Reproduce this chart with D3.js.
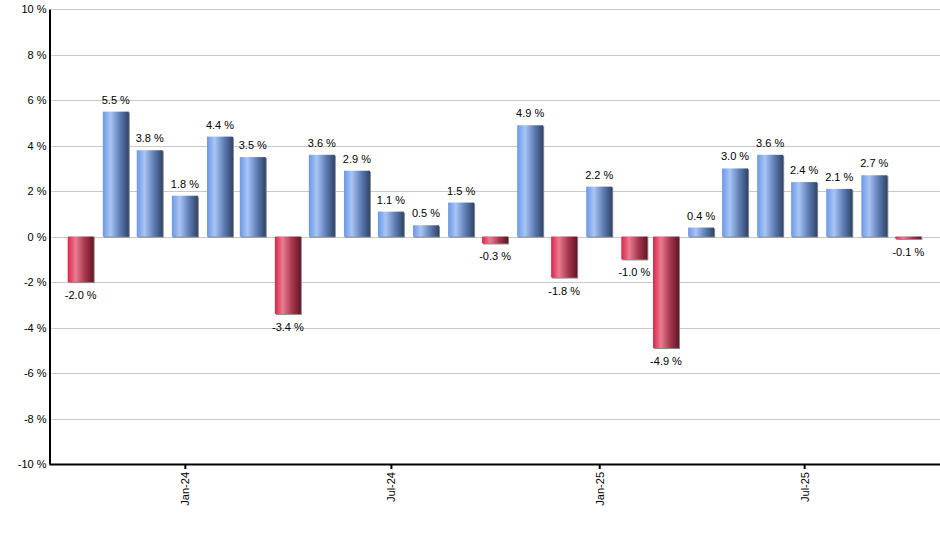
<!DOCTYPE html>
<html>
<head>
<meta charset="utf-8">
<script src="https://cdn.jsdelivr.net/npm/d3@7"></script>
<style>
  body { margin: 0; background: #fff; }
  text { font-family: "Liberation Sans", Arial, sans-serif; }
</style>
</head>
<body>
<svg id="chart" width="940" height="550"></svg>
<script>
// monthly returns, Oct-23 .. Oct-25
const months = ["2023-10", "2023-11", "2023-12", "2024-01", "2024-02", "2024-03", "2024-04",
    "2024-05", "2024-06", "2024-07", "2024-08", "2024-09", "2024-10", "2024-11", "2024-12",
    "2025-01", "2025-02", "2025-03", "2025-04", "2025-05", "2025-06", "2025-07", "2025-08",
    "2025-09", "2025-10"];
const values = [-2.0, 5.5, 3.8, 1.8, 4.4, 3.5, -3.4, 3.6, 2.9, 1.1, 0.5, 1.5, -0.3, 4.9,
    -1.8, 2.2, -1.0, -4.9, 0.4, 3.0, 3.6, 2.4, 2.1, 2.7, -0.1];
const yTicks = [-10, -8, -6, -4, -2, 0, 2, 4, 6, 8, 10];
const xTicks = ["2024-01", "2024-07", "2025-01", "2025-07"];

const parse = d3.utcParse("%Y-%m");
const data = months.map((m, i) => ({ date: parse(m), value: values[i] }));

const svg = d3.select("#chart");
const plotLeft = 49, plotRight = 940, plotTop = 9.3, plotBottom = 464;

const x = d3.scaleUtc()
    .domain([new Date(Date.UTC(2023, 8, 3)), new Date(Date.UTC(2025, 9, 29))])
    .range([plotLeft, plotRight]);
const y = d3.scaleLinear().domain([-10, 10]).range([plotBottom, plotTop]);
const barW = 26;

// gradients
const defs = svg.append("defs");
function make_gradient(id, stops) {
    const g = defs.append("linearGradient").attr("id", id)
        .attr("x1", "0%").attr("x2", "100%").attr("y1", "0%").attr("y2", "0%");
    stops.forEach(s => g.append("stop").attr("offset", s[0]).attr("stop-color", s[1]));
}
make_gradient("blue", [["0%", "#6b98e6"], ["30%", "#a9c5f6"], ["65%", "#5f7fb6"], ["100%", "#2f4468"]]);
make_gradient("red", [["0%", "#dc2448"], ["30%", "#ea7c92"], ["65%", "#a8394f"], ["100%", "#661425"]]);

// grid
svg.append("g")
    .selectAll("line")
    .data(yTicks)
    .enter().append("line")
    .attr("x1", plotLeft).attr("x2", plotRight)
    .attr("y1", d => Math.round(y(d)) + 0.5).attr("y2", d => Math.round(y(d)) + 0.5)
    .attr("stroke", "#c8c8c8")
    .attr("stroke-width", 1);

// bars with a thin shadow
const bars = svg.append("g");
bars.selectAll(".shadow")
    .data(data)
    .enter().append("rect")
    .attr("class", "shadow")
    .attr("x", d => x(d.date) - barW / 2 + 1)
    .attr("y", d => Math.min(y(d.value), y(0)) + (d.value >= 0 ? 1 : 0))
    .attr("width", barW)
    .attr("height", d => Math.abs(y(d.value) - y(0)) + (d.value >= 0 ? 0 : 1))
    .attr("fill", "#8a8a8a");

bars.selectAll(".bar")
    .data(data)
    .enter().append("rect")
    .attr("class", "bar")
    .attr("x", d => x(d.date) - barW / 2)
    .attr("y", d => Math.min(y(d.value), y(0)))
    .attr("width", barW)
    .attr("height", d => Math.abs(y(d.value) - y(0)))
    .attr("fill", d => d.value >= 0 ? "url(#blue)" : "url(#red)");

// value labels (plain hyphen for minus, like the source)
svg.append("g")
    .selectAll("text")
    .data(data)
    .enter().append("text")
    .attr("x", d => x(d.date))
    .attr("y", d => d.value >= 0 ? y(d.value) - 8 : y(d.value) + 17)
    .attr("text-anchor", "middle")
    .attr("font-size", 11)
    .attr("fill", "#000")
    .text(d => d.value.toFixed(1) + " %");

// y axis
const yAxis = svg.append("g")
    .attr("transform", `translate(${plotLeft + 0.5},0)`)
    .call(d3.axisLeft(y).tickValues(yTicks).tickSize(0).tickPadding(3).tickFormat(d => d + " %"));
yAxis.select(".domain").attr("stroke", "#000").attr("stroke-width", 2);
yAxis.selectAll("text").attr("font-size", 11).attr("fill", "#000")
    .attr("font-family", "Liberation Sans, Arial, sans-serif");

// x axis
const xAxis = svg.append("g")
    .attr("transform", `translate(0,${plotBottom})`)
    .call(d3.axisBottom(x).tickValues(xTicks.map(parse)).tickSize(5).tickSizeOuter(0)
        .tickFormat(d3.utcFormat("%b-%y")));
xAxis.select(".domain").attr("stroke", "#000").attr("stroke-width", 2);
xAxis.selectAll(".tick line").attr("stroke", "#000").attr("stroke-width", 2);
xAxis.selectAll("text")
    .attr("font-size", 11).attr("fill", "#000")
    .attr("font-family", "Liberation Sans, Arial, sans-serif")
    .attr("transform", "rotate(-90)")
    .attr("text-anchor", "end")
    .attr("dy", "0.35em")
    .attr("x", -8)
    .attr("y", 0);
</script>
</body>
</html>
